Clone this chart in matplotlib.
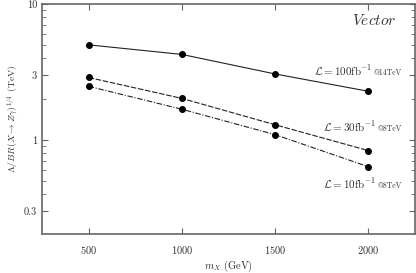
import matplotlib
matplotlib.use("Agg")
import matplotlib.pyplot as plt
from matplotlib.ticker import FixedLocator, FixedFormatter, LogLocator, NullFormatter
from matplotlib.transforms import offset_copy

plt.rcParams['font.family'] = 'serif'
plt.rcParams['font.serif'] = ['cmr10', 'DejaVu Serif']
plt.rcParams['mathtext.fontset'] = 'cm'
plt.rcParams['axes.formatter.use_mathtext'] = True

# データ
mass = [500, 1000, 1500, 2000]
lam_100_14 = [5.02, 4.27, 3.07, 2.29]
lam_30_8 = [2.89, 2.03, 1.30, 0.84]
lam_10_8 = [2.49, 1.69, 1.10, 0.64]
yticks = [0.3, 1, 3, 10]
ytick_labels = ['0.3', '1', '3', '10']

fig = plt.figure(figsize=(4.16, 2.73), dpi=100)
ax = fig.add_axes([0.101, 0.143, 0.896, 0.842])

kw = dict(color='#222222', lw=0.8, marker='o', ms=4, mfc='black', mec='black')
ax.plot(mass, lam_100_14, ls='-', **kw)
ax.plot(mass, lam_30_8, ls=(0, (5, 1.5)), **kw)
ax.plot(mass, lam_10_8, ls=(0, (5, 1.5, 1, 1.5)), **kw)

ax.set_yscale('log')
ax.set_xlim(250, 2250)
ax.set_ylim(0.205, 10)
ax.set_xticks(mass)
ax.yaxis.set_major_locator(FixedLocator(yticks))
ax.yaxis.set_major_formatter(FixedFormatter(ytick_labels))
ax.yaxis.set_minor_locator(LogLocator(subs=range(2, 10)))
ax.yaxis.set_minor_formatter(NullFormatter())

for s in ax.spines.values():
    s.set_color('#666666')
    s.set_linewidth(1.2)
ax.tick_params(which='both', direction='in', top=True, right=True,
               colors='#666666', labelcolor='#333333', labelsize=7.5)
ax.tick_params(which='major', length=4)
ax.tick_params(which='minor', length=3)
ax.tick_params(axis='x', pad=7)

ax.set_xlabel(r'$m_X$ (GeV)', fontsize=7.5, color='#333333', labelpad=2)
ax.set_ylabel(r'$\Lambda/BR(X\to Z\gamma)^{1/4}$ (TeV)', fontsize=7, color='#333333', labelpad=3)

ax.text(2150, 7.6, r'$\mathit{Vector}$', fontsize=11, ha='right', va='center', color='#333333')

# ラベル (本体 + 小さい @xxTeV)
labels = [(r'$\mathcal{L}=100\mathrm{fb}^{-1}$', '@14TeV', 3.0, 'bottom'),
          (r'$\mathcal{L}=30\mathrm{fb}^{-1}$', '@8TeV', 1.16, 'bottom'),
          (r'$\mathcal{L}=10\mathrm{fb}^{-1}$', '@8TeV', 0.57, 'top')]
fig.canvas.draw()
r = fig.canvas.get_renderer()
for main, sub, y, va in labels:
    t = ax.text(2180, y, sub, fontsize=5.5, ha='right', va='baseline', color='#333333')
    m = ax.text(2180, y, main, fontsize=8, ha='right', va='baseline', color='#333333')
    w = t.get_window_extent(r).width * 72 / fig.dpi
    if va == 'top':
        h = m.get_window_extent(r).height * 72 / fig.dpi
    else:
        h = 0
    t.set_transform(offset_copy(ax.transData, fig, y=-h, units='points'))
    m.set_transform(offset_copy(ax.transData, fig, x=-w - 1, y=-h, units='points'))

fig.savefig('out.png', dpi=100)
